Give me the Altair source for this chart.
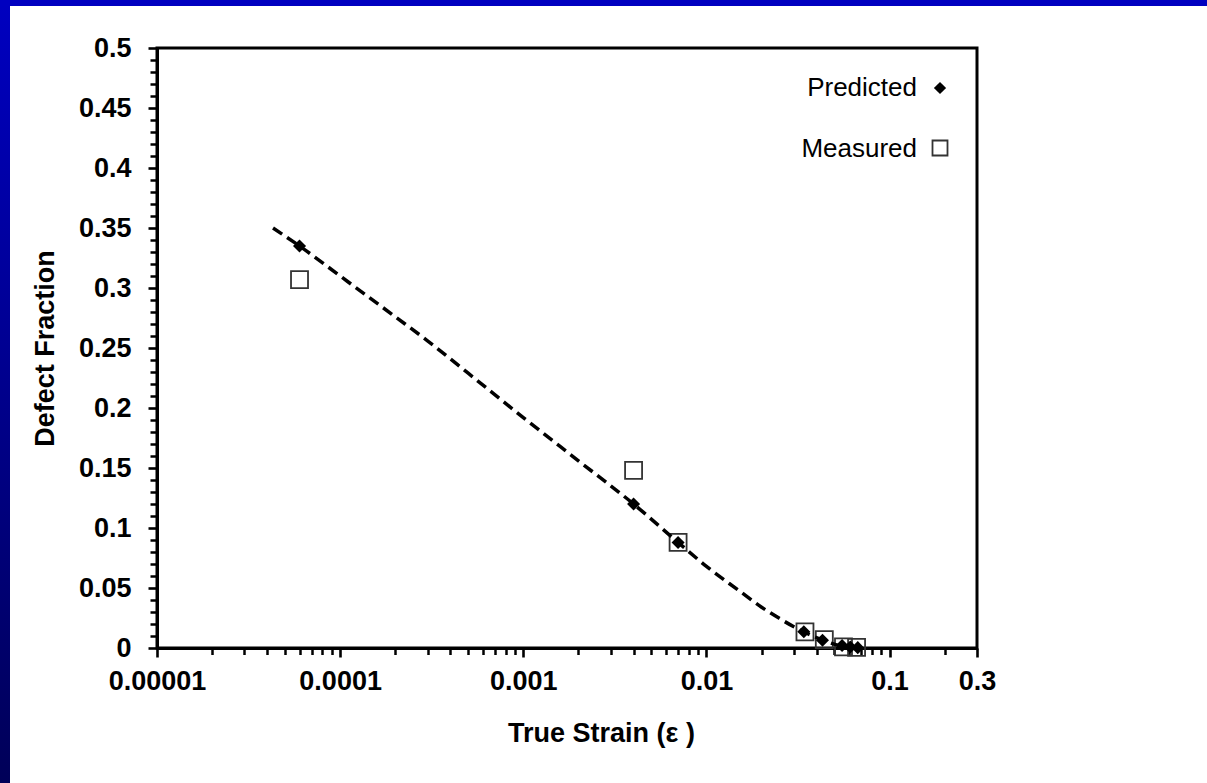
import altair as alt
import pandas as pd

# ---- data ----
pred_x = [6e-5, 0.004, 0.007, 0.034, 0.043, 0.055, 0.061, 0.067]
pred_y = [0.335, 0.120, 0.088, 0.0135, 0.0065, 0.002, 0.0008, 0.0003]

meas_x = [6e-5, 0.004, 0.007, 0.0345, 0.044, 0.056, 0.066]
meas_y = [0.307, 0.148, 0.088, 0.0135, 0.007, 0.001, 0.0005]

curve_x = [4.3e-5, 6e-5, 1e-4, 2e-4, 3e-4, 5e-4, 1e-3, 2e-3, 4e-3, 7e-3,
           0.01, 0.015, 0.02, 0.025, 0.03, 0.034, 0.043, 0.055, 0.065]
curve_y = [0.350, 0.335, 0.310, 0.276, 0.256, 0.229, 0.192, 0.156, 0.120, 0.088,
           0.068, 0.048, 0.034, 0.0247, 0.0177, 0.0135, 0.0067, 0.0015, 0.0]

x_major = [1e-5, 1e-4, 1e-3, 1e-2, 1e-1, 0.3]
x_minor = [k * 10.0 ** e for e in range(-5, 0) for k in range(2, 10) if k * 10.0 ** e < 0.29]
y_major = [round(0.05 * i, 2) for i in range(11)]
y_minor = [round(0.01 * i, 2) for i in range(51) if i % 5 != 0]

legend_labels = ["Predicted", "Measured"]

FONT = "Liberation Sans"

pred_df = pd.DataFrame({"x": pred_x, "y": pred_y})
meas_df = pd.DataFrame({"x": meas_x, "y": meas_y})
curve_df = pd.DataFrame({"x": curve_x, "y": curve_y})
one = pd.DataFrame({"a": [0]})

xscale = alt.Scale(type="log", domain=[1e-5, 0.3], nice=False)
yscale = alt.Scale(domain=[0, 0.5], nice=False, zero=True)

x_main_axis = alt.Axis(
    values=x_major, format="~f", orient="bottom", grid=False,
    labelFont=FONT, labelFontSize=27, labelFontWeight="bold", labelColor="black",
    labelFlush=False, labelOverlap=False, labelPadding=11,
    tickSize=9, tickWidth=2.6, tickColor="black",
    domainColor="black", domainWidth=3,
    title="True Strain (\u03b5 )", titleFont=FONT, titleFontSize=27,
    titleFontWeight="bold", titleColor="black",
    titleX=444, titleY=93, titleAlign="center", titleBaseline="alphabetic",
)
y_main_axis = alt.Axis(
    values=y_major, format="~g", orient="left", grid=False,
    labelFont=FONT, labelFontSize=27, labelFontWeight="bold", labelColor="black",
    labelFlush=False, labelOverlap=False, labelPadding=17,
    tickSize=9, tickWidth=2.6, tickColor="black",
    domainColor="black", domainWidth=3,
    title="Defect Fraction", titleFont=FONT, titleFontSize=27,
    titleFontWeight="bold", titleColor="black",
    titleX=-112, titleY=300, titleAngle=-90, titleAlign="center", titleBaseline="middle",
)
x_minor_axis = alt.Axis(values=x_minor, orient="bottom", grid=False, labels=False,
                        domain=False, tickSize=6.5, tickWidth=2.5, tickColor="black", title="")
y_minor_axis = alt.Axis(values=y_minor, orient="left", grid=False, labels=False,
                        domain=False, tickSize=7, tickWidth=2.5, tickColor="black", title="")

measured = alt.Chart(meas_df).mark_point(
    shape="square", size=289, filled=False, stroke="#333333", strokeWidth=1.8, opacity=1
).encode(
    x=alt.X("x:Q", scale=xscale, axis=x_main_axis),
    y=alt.Y("y:Q", scale=yscale, axis=y_main_axis),
)

curve = alt.Chart(curve_df).mark_line(
    color="black", strokeWidth=3.5, strokeDash=[11, 6], interpolate="monotone"
).encode(
    x=alt.X("x:Q", scale=xscale, axis=x_minor_axis),
    y=alt.Y("y:Q", scale=yscale, axis=y_minor_axis),
)

predicted = alt.Chart(pred_df).mark_point(
    shape="diamond", size=170, filled=True, color="black", opacity=1
).encode(
    x=alt.X("x:Q", scale=xscale, axis=None),
    y=alt.Y("y:Q", scale=yscale, axis=None),
)

# legend (labels left of symbols, inside the plot box)
leg_t1 = alt.Chart(one).mark_text(
    text=legend_labels[0], font=FONT, fontSize=26, align="right", baseline="alphabetic", color="black"
).encode(x=alt.value(760), y=alt.value(48))
leg_s1 = alt.Chart(one).mark_point(
    shape="diamond", size=150, filled=True, color="black", opacity=1
).encode(x=alt.value(783), y=alt.value(40))
leg_t2 = alt.Chart(one).mark_text(
    text=legend_labels[1], font=FONT, fontSize=26, align="right", baseline="alphabetic", color="black"
).encode(x=alt.value(760), y=alt.value(109))
leg_s2 = alt.Chart(one).mark_point(
    shape="square", size=225, filled=False, stroke="#333333", strokeWidth=1.8, opacity=1
).encode(x=alt.value(783), y=alt.value(100))

# slide frame (blue strips on the top and left edges)
grad = alt.LinearGradient(
    gradient="linear",
    stops=[alt.GradientStop(color="#0000c0", offset=0), alt.GradientStop(color="#000058", offset=1)],
    x1=0, x2=0, y1=0, y2=1,
)
left_strip = alt.Chart(one).mark_rect(color=grad).encode(
    x=alt.value(-157), x2=alt.value(-147), y=alt.value(-48), y2=alt.value(735)
)
top_strip = alt.Chart(one).mark_rect(color="#0000c0").encode(
    x=alt.value(-157), x2=alt.value(1050), y=alt.value(-48), y2=alt.value(-42)
)

chart = alt.layer(
    left_strip, top_strip, measured, curve, predicted, leg_t1, leg_s1, leg_t2, leg_s2
).resolve_axis(
    x="independent", y="independent"
).properties(
    width=820, height=600,
    padding={"left": 157, "top": 48, "right": 230, "bottom": 135},
    autosize="none",
).configure(
    background="white"
).configure_view(
    stroke="black", strokeWidth=3
)

chart.save("out.html", embed_options={"renderer": "svg", "actions": False})
